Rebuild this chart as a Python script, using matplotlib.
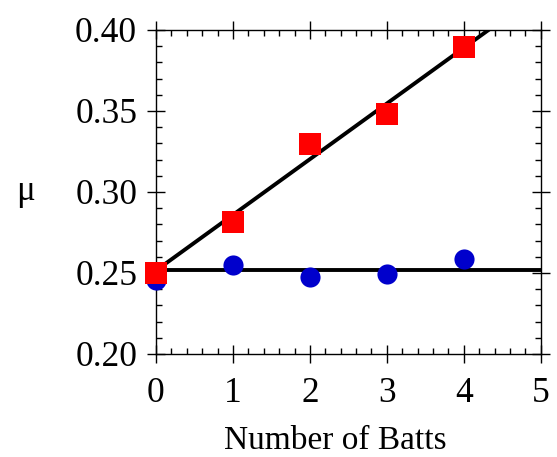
import matplotlib.pyplot as plt
from matplotlib.ticker import MultipleLocator

plt.rcParams['font.family'] = ['Liberation Serif', 'DejaVu Serif']

# datos
batts = [0, 1, 2, 3, 4]
mu_squares = [0.2498, 0.2813, 0.3296, 0.3480, 0.3893]
mu_circles = [0.2457, 0.2549, 0.2473, 0.2494, 0.2585]

# rectas de ajuste (extremos)
fit_flat_x = [0, 5]
fit_flat_y = [0.2519, 0.2519]
fit_slope_x = [0, 4.32]
fit_slope_y = [0.2515, 0.4000]

fig = plt.figure(figsize=(5.57, 4.57), dpi=100)
ax = fig.add_axes([0.280, 0.2254, 0.691, 0.709])

ax.plot(fit_flat_x, fit_flat_y, color='black', lw=2.8, zorder=2)
ax.plot(fit_slope_x, fit_slope_y, color='black', lw=2.8, zorder=2)
ax.plot(batts, mu_circles, 'o', color='#0000CC', ms=14.5, mew=0, zorder=3, clip_on=False)
ax.plot(batts, mu_squares, 's', color='#FF0000', ms=16, mew=0, zorder=4, clip_on=False)

ax.set_xlim(0, 5)
ax.set_ylim(0.20, 0.40)
ax.xaxis.set_major_locator(MultipleLocator(1))
ax.xaxis.set_minor_locator(MultipleLocator(0.2))
ax.yaxis.set_major_locator(MultipleLocator(0.05))
ax.yaxis.set_minor_locator(MultipleLocator(0.01))
ax.yaxis.set_major_formatter(plt.FormatStrFormatter('%.2f'))

ax.tick_params(which='major', direction='inout', length=13, width=1.0,
               top=True, right=True, labelsize=25.5, pad=7)
ax.tick_params(axis='x', which='major', pad=10)
ax.tick_params(which='minor', direction='in', length=4.5, width=1.0,
               top=True, right=True)
for s in ax.spines.values():
    s.set_linewidth(1.0)

ax.set_xlabel('Number of Batts', fontsize=24)
ax.xaxis.set_label_coords(0.465, -0.222)
ax.set_ylabel('μ', fontsize=25, rotation=0, labelpad=36, va='center')

fig.savefig('out.png', dpi=100)
